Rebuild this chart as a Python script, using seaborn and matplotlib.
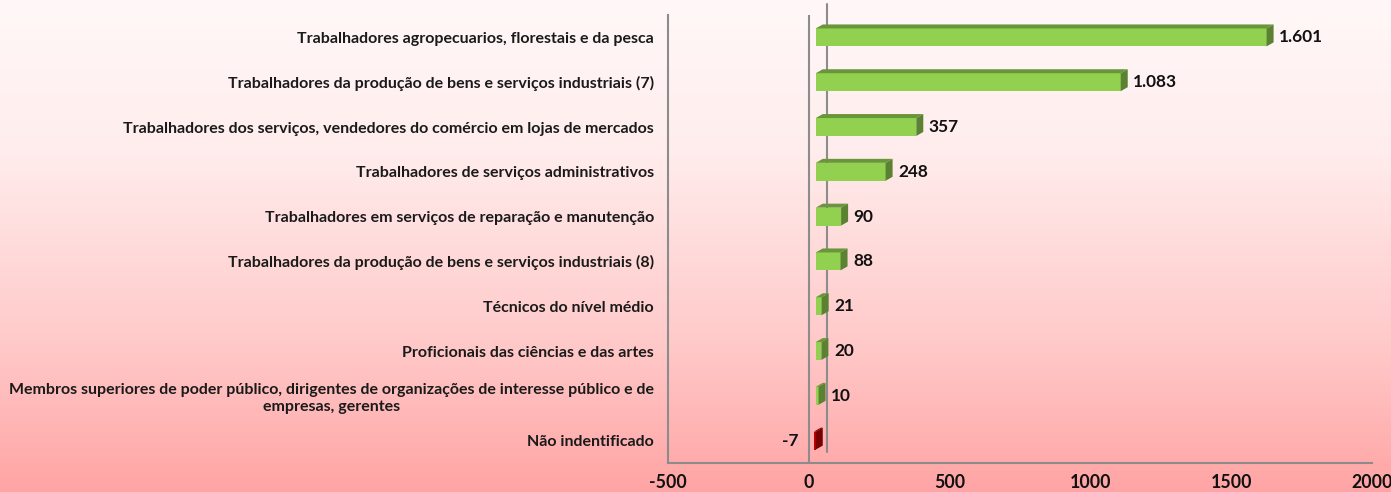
import numpy as np
import pandas as pd
import matplotlib
matplotlib.use("Agg")
import matplotlib.pyplot as plt
import matplotlib.transforms as mtransforms
from matplotlib.colors import LinearSegmentedColormap, to_rgb
from matplotlib.patches import Polygon
import seaborn as sns

categorias = [
    "Trabalhadores agropecuarios, florestais e da pesca",
    "Trabalhadores da produção de bens e serviços industriais (7)",
    "Trabalhadores dos serviços, vendedores do comércio em lojas de mercados",
    "Trabalhadores de serviços administrativos",
    "Trabalhadores em serviços de reparação e manutenção",
    "Trabalhadores da produção de bens e serviços industriais (8)",
    "Técnicos do nível médio",
    "Proficionais das ciências e das artes",
    "Membros superiores de poder público, dirigentes de organizações de interesse público e de\nempresas, gerentes",
    "Não indentificado",
]
valores = [1601, 1083, 357, 248, 90, 88, 21, 20, 10, -7]
rotulos = ["1.601", "1.083", "357", "248", "90", "88", "21", "20", "10", "-7"]
ticks_x = [-500, 0, 500, 1000, 1500, 2000]

sns.set_theme(style="white")
plt.rcParams['font.family'] = ['Lato', 'DejaVu Sans']

fig = plt.figure(figsize=(13.91, 4.92), dpi=100)

# fundo em degradê (branco -> rosa)
bg = fig.add_axes([0, 0, 1, 1], zorder=-10)
cmap = LinearSegmentedColormap.from_list(
    'fundo', [(0, '#FFF8F8'), (0.3, '#FFEDED'), (0.71, '#FFC8C8'), (1, '#FFA4A4')])
bg.imshow(np.linspace(0, 1, 256).reshape(-1, 1), aspect='auto', cmap=cmap,
          extent=[0, 1, 0, 1], origin='upper')
bg.axis('off')

ax = fig.add_axes([0.4802, 0.0589, 0.5061, 0.9106])
ax.patch.set_alpha(0)

df = pd.DataFrame({'categoria': categorias, 'valor': valores})
cores = ['#92D050' if v >= 0 else '#C00000' for v in valores]
sns.barplot(data=df, y='categoria', x='valor', hue='categoria', palette=cores,
            legend=False, width=0.40, saturation=1, ax=ax, edgecolor='none')

ax.set_xlim(-500, 2000)
ax.set_ylim(9.5, -0.5)
ax.set_xticks(ticks_x)
ax.set_xticklabels([str(t) for t in ticks_x], fontsize=12.8, fontweight='bold', color='#111111')
ax.set_yticks(range(len(categorias)))
ax.set_yticklabels(categorias, fontsize=11.5, fontweight='bold', color='#1A1A1A')
for lbl in ax.get_yticklabels():
    lbl.set_multialignment('center')
ax.tick_params(axis='both', length=0)
ax.tick_params(axis='y', pad=10)
ax.tick_params(axis='x', pad=8)
ax.set_xlabel('')
ax.set_ylabel('')

linha = '#8C8C8C'
for s in ['top', 'right']:
    ax.spines[s].set_visible(False)
for s in ['left', 'bottom']:
    ax.spines[s].set_color(linha)
    ax.spines[s].set_linewidth(1.5)
ax.axvline(0, color=linha, lw=1.5, zorder=1)
# linha do zero no fundo (efeito 3D)
tr_fundo = mtransforms.offset_copy(ax.transData, fig=fig, x=18, y=11, units='dots')
ax.plot([0, 0], [-0.5, 9.5], color=linha, lw=1.5, transform=tr_fundo, clip_on=False, zorder=1)

# profundidade das barras
wpx = ax.get_position().width * fig.get_figwidth() * fig.dpi
hpx = ax.get_position().height * fig.get_figheight() * fig.dpi
dx = 7 * 2500 / wpx
dy = 4 * 10 / hpx
tr = mtransforms.offset_copy(ax.transData, fig=fig, x=7, y=0, units='dots')

for p, rot, v in zip(ax.patches, rotulos, valores):
    p.set_transform(tr)
    p.set_zorder(3)
    x0, w = p.get_x(), p.get_width()
    xl, xr = min(x0, x0 + w), max(x0, x0 + w)
    yt, yb = p.get_y(), p.get_y() + p.get_height()
    c = np.array(to_rgb(p.get_facecolor()))
    topo = Polygon([(xl, yt), (xr, yt), (xr + dx, yt - dy), (xl + dx, yt - dy)],
                   closed=True, facecolor=c * 0.72, edgecolor='none', transform=tr, zorder=3)
    lado = Polygon([(xr, yt), (xr + dx, yt - dy), (xr + dx, yb - dy), (xr, yb)],
                   closed=True, facecolor=c * 0.62, edgecolor='none', transform=tr, zorder=3)
    ax.add_patch(topo)
    ax.add_patch(lado)
    yc = (yt + yb) / 2
    if v >= 0:
        ax.annotate(rot, xy=(xr + dx, yc), xycoords='data', xytext=(9, 0),
                    textcoords='offset points', ha='left', va='center',
                    fontsize=12.4, fontweight='bold', color='#111111')
    else:
        ax.annotate(rot, xy=(xl, yc), xycoords='data', xytext=(-6, 0),
                    textcoords='offset points', ha='right', va='center',
                    fontsize=12.4, fontweight='bold', color='#111111')

fig.savefig('out.png', dpi=100)
